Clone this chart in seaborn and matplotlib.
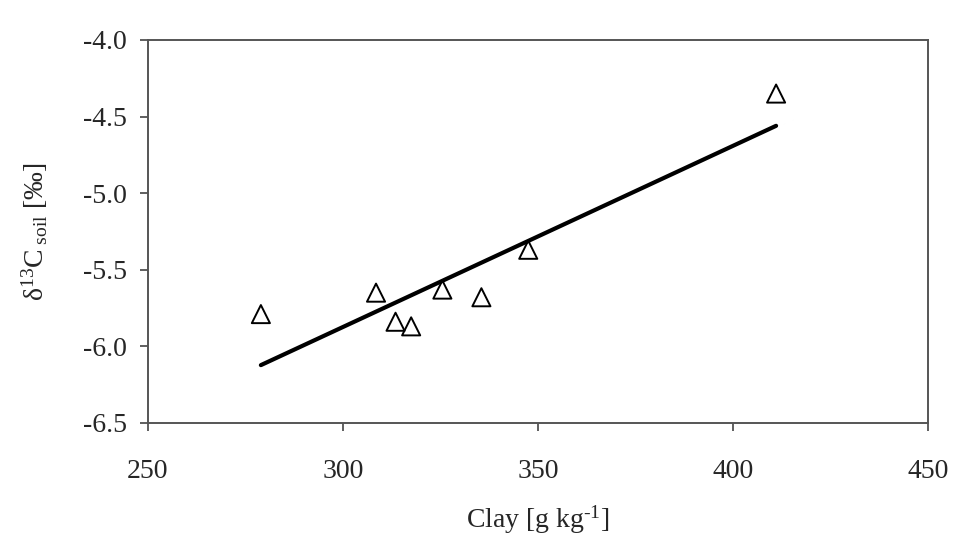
import pandas as pd
import matplotlib
matplotlib.use("Agg")
import matplotlib.pyplot as plt
import seaborn as sns

# values
clay = [279, 308.5, 313.5, 317.5, 325.5, 335.5, 347.5, 411]
d13c = [-5.79, -5.65, -5.84, -5.87, -5.63, -5.68, -5.37, -4.35]

df = pd.DataFrame({"Clay": clay, "d13C": d13c})

sns.set_style("ticks")
plt.rcParams["font.family"] = ["Liberation Serif", "DejaVu Serif"]
plt.rcParams["mathtext.fontset"] = "custom"
plt.rcParams["mathtext.rm"] = "Liberation Serif"
plt.rcParams["mathtext.it"] = "Liberation Serif:italic"

fig = plt.figure(figsize=(9.59, 5.40), dpi=100)
ax = fig.add_axes([0.154, 0.217, 0.814, 0.709])

sns.regplot(data=df, x="Clay", y="d13C", ax=ax, scatter=False, ci=None,
            color="black", line_kws={"linewidth": 3})
sns.scatterplot(data=df, x="Clay", y="d13C", ax=ax, marker="^", s=170,
                facecolor="none", edgecolor="black", linewidth=1.4, zorder=3)

ax.set_xlim(250, 450)
ax.set_ylim(-6.5, -4.0)
ax.set_xticks([250, 300, 350, 400, 450])
ax.set_yticks([-6.5, -6.0, -5.5, -5.0, -4.5, -4.0])
ax.set_yticklabels(["-6.5", "-6.0", "-5.5", "-5.0", "-4.5", "-4.0"])
ax.tick_params(labelsize=20, direction="out", length=6, width=1.2, color="#444444")
ax.tick_params(axis="x", pad=20)
ax.tick_params(axis="y", pad=9)

for sp in ax.spines.values():
    sp.set_visible(True)
    sp.set_linewidth(1.4)
    sp.set_color("#555555")

ax.set_xlabel("Clay [g kg$^{\\text{-1}}$]", fontsize=20, labelpad=14)
ax.set_ylabel("δ$^{13}$C$_{\\rm\\ soil}$ [‰]", fontsize=20, labelpad=24)

fig.savefig("out.png", dpi=100)
